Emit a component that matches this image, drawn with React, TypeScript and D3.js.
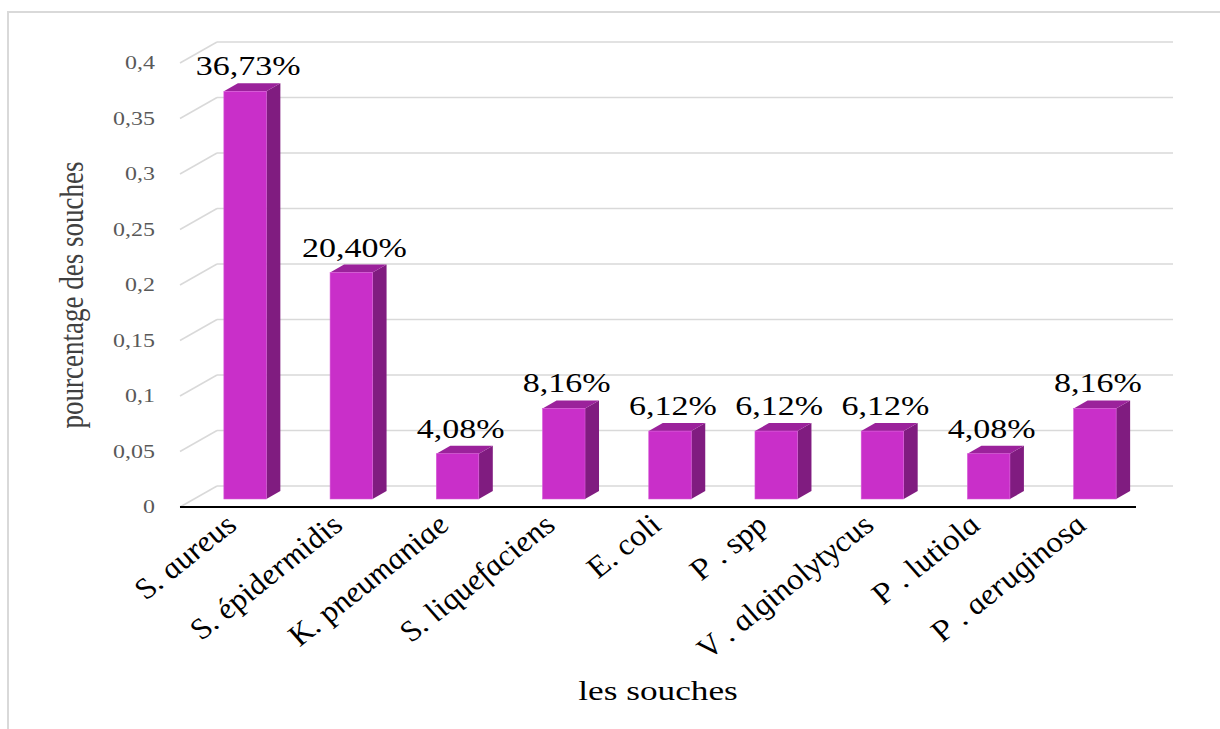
import * as d3 from "d3";

const souches = [
  "S. aureus",
  "S. épidermidis",
  "K. pneumaniae",
  "S. liquefaciens",
  "E. coli",
  "P . spp",
  "V . alginolytycus",
  "P . lutiola",
  "P . aeruginosa",
];
const valeurs = [0.3673, 0.204, 0.0408, 0.0816, 0.0612, 0.0612, 0.0612, 0.0408, 0.0816];
const etiquettes = ["36,73%", "20,40%", "4,08%", "8,16%", "6,12%", "6,12%", "6,12%", "4,08%", "8,16%"];
const ticks = [0, 0.05, 0.1, 0.15, 0.2, 0.25, 0.3, 0.35, 0.4];

// the picture is stretched sideways, so text gets the same stretch
const SX = 1.26;
const serif = "'Liberation Serif', 'Times New Roman', serif";

export default function App() {
  // back wall
  const backL = 217;
  const backR = 1173;
  const y = d3.scaleLinear().domain([0, 0.4]).range([486, 42]);
  // depth offsets
  const depthX = -37;
  const depthY = 21;
  // bars stand a bit behind the front edge
  const yBar = d3.scaleLinear().domain([0, 0.4]).range([499, 499 - 444]);
  const x = d3
    .scaleBand()
    .domain(souches)
    .range([backL - 25, backR - 25])
    .paddingInner(0.6)
    .paddingOuter(0.3);
  const bw = x.bandwidth();
  const sideX = 14;
  const sideY = -8;
  const fmt = (v: number) => String(v).replace(".", ",");

  return (
    <svg
      width={1220}
      height={729}
      style={{ position: "absolute", left: 0, top: 0, background: "#fff" }}
    >
      <path d="M8,729 V12 H1220" fill="none" stroke="#d9d9d9" strokeWidth={2} />

      {ticks.map((t, i) => (
        <g key={i}>
          <line x1={backL} x2={backR} y1={y(t)} y2={y(t)} stroke="#d9d9d9" strokeWidth={1.5} />
          <line
            x1={backL + depthX}
            y1={y(t) + depthY}
            x2={backL}
            y2={y(t)}
            stroke="#d9d9d9"
            strokeWidth={1.5}
          />
          <text
            transform={`translate(155,${y(t) + depthY + 6}) scale(${SX},1)`}
            textAnchor="end"
            fontFamily={serif}
            fontSize={19}
            fill="#595959"
          >
            {fmt(t)}
          </text>
        </g>
      ))}

      <line
        x1={backL + depthX}
        x2={backR + depthX}
        y1={y(0) + depthY}
        y2={y(0) + depthY}
        stroke="#000"
        strokeWidth={2}
      />

      {souches.map((s, i) => {
        const x0 = x(s)!;
        const top = yBar(valeurs[i]);
        const bot = yBar(0);
        return (
          <g key={s}>
            <path
              d={`M${x0 + bw},${top} L${x0 + bw + sideX},${top + sideY} L${x0 + bw + sideX},${bot + sideY} L${x0 + bw},${bot} Z`}
              fill="#801c80"
            />
            <path
              d={`M${x0},${top} L${x0 + sideX},${top + sideY} L${x0 + bw + sideX},${top + sideY} L${x0 + bw},${top} Z`}
              fill="#9b229b"
            />
            <rect x={x0} y={top} width={bw} height={bot - top} fill="#c92fc9" stroke="#d85ad8" strokeWidth={0.6} />
            <text
              transform={`translate(${x0 + bw / 2 + 3},${top - 16}) scale(${SX},1)`}
              textAnchor="middle"
              fontFamily={serif}
              fontSize={27}
              fill="#000"
            >
              {etiquettes[i]}
            </text>
            <text
              transform={`translate(${x0 + bw / 2 - 6},527) scale(${SX},1) rotate(-45)`}
              textAnchor="end"
              fontFamily={serif}
              fontStyle="italic"
              fontSize={28}
              fill="#000"
            >
              {s}
            </text>
          </g>
        );
      })}

      <text
        transform={`translate(83,295) scale(${SX},1) rotate(-90)`}
        textAnchor="middle"
        fontFamily={serif}
        fontSize={27}
        fill="#404040"
      >
        pourcentage des souches
      </text>
      <text
        transform={`translate(658,700) scale(${SX},1)`}
        textAnchor="middle"
        fontFamily={serif}
        fontSize={28}
        fill="#000"
      >
        les souches
      </text>
    </svg>
  );
}
